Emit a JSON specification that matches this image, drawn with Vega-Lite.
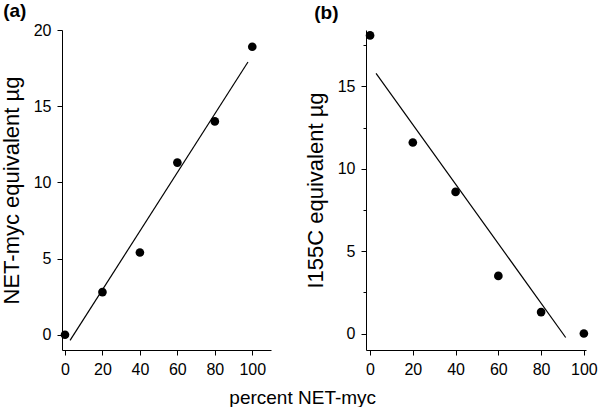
{
  "$schema": "https://vega.github.io/schema/vega-lite/v6.json",
  "padding": {"left": 0, "top": 2, "right": 4, "bottom": 0},
  "background": "white",
  "config": {
    "view": {"stroke": null},
    "font": "Liberation Sans",
    "axis": {
      "grid": false,
      "domainColor": "black",
      "domainWidth": 1,
      "tickColor": "black",
      "tickWidth": 1,
      "labelColor": "black",
      "labelFont": "Liberation Sans",
      "labelFontSize": 16,
      "titleColor": "black",
      "titleFont": "Liberation Sans",
      "titleFontWeight": "normal",
      "titleFontSize": 22
    },
    "axisX": {"labelPadding": 6, "labelFlush": false, "tickSize": 4},
    "axisY": {"labelPadding": 6, "titlePadding": 10, "tickSize": 5}
  },
  "datasets": {
    "a_pts": [
      {"percent": 0, "value": 0.0},
      {"percent": 20, "value": 2.8},
      {"percent": 40, "value": 5.4},
      {"percent": 60, "value": 11.3},
      {"percent": 80, "value": 14.0},
      {"percent": 100, "value": 18.9}
    ],
    "a_fit": [
      {"percent": 2.7, "value": -0.37},
      {"percent": 97.7, "value": 17.9}
    ],
    "b_pts": [
      {"percent": 0, "value": 18.1},
      {"percent": 20, "value": 11.6},
      {"percent": 40, "value": 8.6},
      {"percent": 60, "value": 3.5},
      {"percent": 80, "value": 1.3},
      {"percent": 100, "value": 0.0}
    ],
    "b_fit": [
      {"percent": 2.8, "value": 15.8},
      {"percent": 91.5, "value": -0.24}
    ]
  },
  "title": {
    "text": "percent NET-myc",
    "orient": "bottom",
    "anchor": "middle",
    "fontSize": 19,
    "fontWeight": "normal",
    "font": "Liberation Sans",
    "color": "black",
    "offset": 12,
    "dx": 4
  },
  "spacing": 33,
  "hconcat": [
    {
      "title": {"text": "(a)", "anchor": "start", "frame": "bounds", "fontSize": 19, "fontWeight": "bold", "font": "Liberation Sans", "color": "black", "offset": 1, "dx": 3},
      "width": 209,
      "height": 320,
      "layer": [
        {
          "data": {"name": "a_fit"},
          "mark": {"type": "line", "color": "black", "strokeWidth": 1.2},
          "encoding": {
            "x": {"field": "percent", "type": "quantitative", "scale": {"domain": [-1.6, 110], "nice": false, "zero": false},
              "axis": {"values": [0, 10, 20, 30, 40, 50, 60, 70, 80, 90, 100, 110], "labelExpr": "datum.value % 20 === 0 ? datum.label : ''", "title": null,
                "tickSize": {"condition": {"test": "datum.value % 20 === 0", "value": 5}, "value": 3}}},
            "y": {"field": "value", "type": "quantitative", "scale": {"domain": [-1, 20], "nice": false, "zero": false},
              "axis": {"values": [0, 2.5, 5, 7.5, 10, 12.5, 15, 17.5, 20], "labelExpr": "datum.value % 5 === 0 ? datum.label : ''", "title": "NET-myc equivalent µg",
                "tickSize": {"condition": {"test": "datum.value % 5 === 0", "value": 5}, "value": 3}}}
          }
        },
        {
          "data": {"name": "a_pts"},
          "mark": {"type": "circle", "size": 75, "color": "black", "opacity": 1},
          "encoding": {
            "x": {"field": "percent", "type": "quantitative"},
            "y": {"field": "value", "type": "quantitative"}
          }
        }
      ]
    },
    {
      "title": {"text": "(b)", "anchor": "start", "frame": "bounds", "fontSize": 19, "fontWeight": "bold", "font": "Liberation Sans", "color": "black", "offset": 1, "dx": 10, "dy": -6},
      "width": 220,
      "height": 320,
      "layer": [
        {
          "data": {"name": "b_fit"},
          "mark": {"type": "line", "color": "black", "strokeWidth": 1.2},
          "encoding": {
            "x": {"field": "percent", "type": "quantitative", "scale": {"domain": [-1.9, 101], "nice": false, "zero": false},
              "axis": {"values": [0, 10, 20, 30, 40, 50, 60, 70, 80, 90, 100], "labelExpr": "datum.value % 20 === 0 ? datum.label : ''", "title": null,
                "tickSize": {"condition": {"test": "datum.value % 20 === 0", "value": 5}, "value": 3}}},
            "y": {"field": "value", "type": "quantitative", "scale": {"domain": [-1, 18.43], "nice": false, "zero": false},
              "axis": {"values": [0, 2.5, 5, 7.5, 10, 12.5, 15, 17.5], "labelExpr": "datum.value % 5 === 0 ? datum.label : ''", "title": "I155C equivalent µg",
                "tickSize": {"condition": {"test": "datum.value % 5 === 0", "value": 5}, "value": 3}}}
          }
        },
        {
          "data": {"name": "b_pts"},
          "mark": {"type": "circle", "size": 75, "color": "black", "opacity": 1},
          "encoding": {
            "x": {"field": "percent", "type": "quantitative"},
            "y": {"field": "value", "type": "quantitative"}
          }
        }
      ]
    }
  ]
}
